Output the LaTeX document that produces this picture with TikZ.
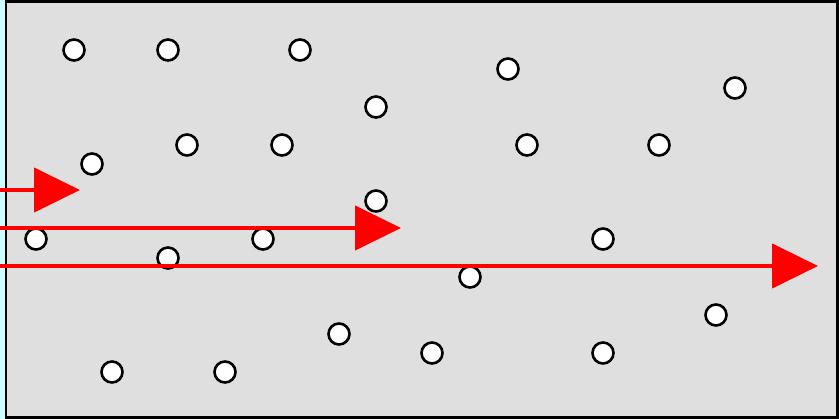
\documentclass[tikz,border=0pt]{standalone}
\usetikzlibrary{arrows.meta}
\definecolor{bgcyan}{HTML}{CCFFFF}
\definecolor{boxgray}{HTML}{DFDFDF}
\begin{document}
\begin{tikzpicture}[x=1pt,y=-1pt,
  dot/.style={circle,draw=black,fill=white,line width=2.6pt,minimum size=21pt,inner sep=0pt},
  ray/.style={draw=red,line width=4.6pt,-{Triangle[length=46pt,width=44pt]}}]
\fill[bgcyan] (0,0) rectangle (839,419);
\useasboundingbox (0,0) rectangle (839,419);
\draw[fill=boxgray,line width=2.6pt] (6,1.3) rectangle (837.7,417.7);
\foreach \n/\x/\y in {a/74/50,b/168/50,c/300/50,d/508/69,e/735/88,f/376/107,g/92/164,h/187/145,i/282/145,j/527/145,k/659/145,l/376/201,m/36/239,n/168/258,o/263/239,p/603/239,q/470/277,r/716/315,s/339/334,t/432/353,u/603/353,v/112/372,w/225/372}
  \node[dot] (\n) at (\x,\y) {};
\coordinate (s1) at (0,190); \coordinate (e1) at (80,190);
\coordinate (s2) at (0,228); \coordinate (e2) at (401,228);
\coordinate (s3) at (0,266); \coordinate (e3) at (818,266);
\draw[ray] (s1) -- (e1);
\draw[ray] (s2) -- (e2);
\draw[ray] (s3) -- (e3);
\end{tikzpicture}
\end{document}
